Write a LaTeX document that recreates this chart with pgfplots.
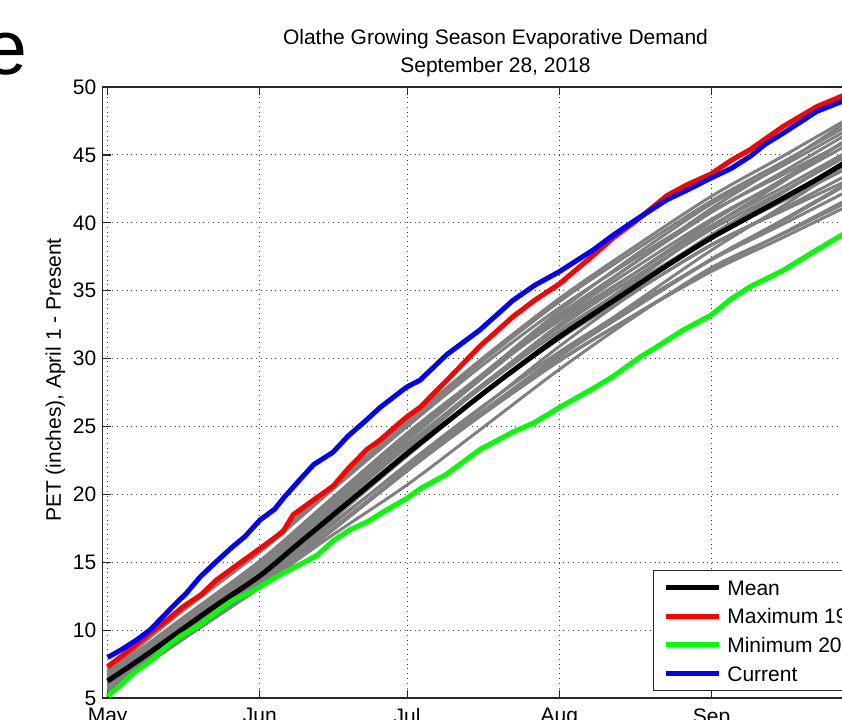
\documentclass[border=0pt]{standalone}
\usepackage{fontspec}
\setmainfont{Liberation Sans}
\usepackage{pgfplots}
\usepackage{pgfplotstable}
\pgfplotsset{compat=1.18}
\definecolor{mgray}{RGB}{128,128,128}
\definecolor{mgreen}{RGB}{0,255,0}
\definecolor{mred}{RGB}{255,0,0}
\definecolor{mblue}{RGB}{0,0,255}

\pgfplotstableread{
doy g1 g2 g3 g4 g5 g6 g7 g8 g9 g10 g11 g12 g13 g14 g15 g16 g17 g18 g19 g20 g21 g22
121 7.15 6.85 6.65 6.95 6.55 6.45 6.75 6.15 6.25 5.95 6.45 5.85 5.65 6.05 5.55 5.95 5.55 6.35 6.75 6.05 6.55 5.75
135 11.30 11.05 10.21 11.10 10.31 10.25 10.06 9.54 9.96 9.73 9.97 9.14 9.17 9.31 9.01 9.22 9.00 9.38 10.55 9.85 9.95 9.15
152 15.95 15.80 14.59 15.75 14.85 14.80 14.13 13.73 14.41 14.25 14.22 13.16 13.40 13.26 13.16 13.21 13.20 13.18 15.10 14.40 13.90 13.50
166 20.40 20.20 18.93 20.10 19.26 19.20 18.23 17.94 18.74 18.60 18.38 17.19 17.54 17.22 17.22 17.23 16.80 17.12 19.50 18.90 17.70 18.00
182 25.37 25.19 23.94 24.99 24.28 24.19 22.96 22.82 23.65 23.49 23.10 21.82 22.23 21.74 21.82 21.84 20.70 21.72 24.50 24.00 22.10 23.20
197 29.92 29.71 28.47 29.41 28.76 28.61 27.25 27.26 28.00 27.80 27.29 25.99 26.39 25.78 25.88 25.99 24.80 25.95 28.70 28.70 26.30 27.90
213 34.42 34.19 33.06 33.74 33.23 32.98 31.59 31.78 32.32 32.03 31.44 30.18 30.49 29.81 29.88 30.16 29.20 30.28 32.80 33.50 30.90 32.50
228 38.16 37.88 36.97 37.29 36.96 36.60 35.28 35.66 35.90 35.49 34.87 33.70 33.87 33.15 33.14 33.66 33.00 34.02 36.20 37.50 34.80 36.20
244 41.96 41.61 41.06 40.85 40.77 40.27 39.13 39.72 39.52 38.97 38.35 37.34 37.28 36.57 36.42 37.28 36.70 37.99 39.80 41.40 38.40 40.10
258 44.80 44.38 44.22 43.45 43.65 43.00 42.10 42.90 42.22 41.50 40.93 40.11 39.80 39.13 38.82 40.03 39.10 41.11 42.50 44.10 40.80 43.10
271 47.50 47.00 47.30 45.90 46.40 45.60 45.00 46.00 44.80 43.90 43.40 42.80 42.20 41.60 41.10 42.70 41.40 44.20 45.10 46.70 43.00 46.00
}\graydata

\begin{document}
\begin{tikzpicture}
\path[use as bounding box, clip] (0pt,0pt) rectangle (421pt,-359.5pt);
\node[anchor=base east, inner sep=0pt, font=\fontsize{38.5}{44}\selectfont] at (14pt,-37.3pt) {e};
\begin{axis}[
  at={(51.35pt,-349pt)}, anchor=south west,
  width=392.8pt, height=305.5pt, scale only axis,
  xmin=120, xmax=280, ymin=5, ymax=50,
  xtick={121,152,182,213,244,274},
  xticklabels={May,Jun,Jul,Aug,Sep,Oct},
  ytick={5,10,...,50},
  tick align=inside,
  major tick length=4pt,
  grid=major,
  grid style={dotted, black!75, line width=0.5pt},
  axis line style={black!85, line width=0.6pt},
  tick style={black!85, line width=0.6pt},
  tick label style={font=\fontsize{10.5}{12}\selectfont},
  /pgf/number format/assume math mode=true,
  xticklabel style={inner sep=0pt, yshift=-5pt},
  yticklabel style={inner sep=0pt, xshift=-3pt},
  title={Olathe Growing Season Evaporative Demand\\September 28, 2018},
  title style={font=\fontsize{10.5}{13.85}\selectfont, align=center, anchor=south, inner sep=0pt, at={(0.5,1)}, yshift=-1pt},
  ylabel={PET (inches), April 1 - Present},
  ylabel style={font=\fontsize{10.5}{12}\selectfont, at={(axis description cs:-0.0601,0.5205)}, anchor=center, inner sep=0pt},
  legend style={at={(1,0)}, anchor=south east, xshift=-3.5pt, yshift=3.5pt,
    font=\fontsize{10.5}{12}\selectfont, draw=black!85, fill=white,
    inner xsep=5pt, inner ysep=4.8pt, row sep=6.7pt, column sep=3pt,
    nodes={inner sep=0pt, text height=7.6pt, text depth=0pt}},
  legend cell align=left,
  legend image code/.code={\draw[#1] (0pt,0pt) -- (26.5pt,0pt);},
]
\pgfplotsinvokeforeach{1,...,22}{
  \addplot[mgray, line width=1.5pt, smooth, tension=0.5, forget plot] table[x=doy, y=g#1] {\graydata};
}
\addplot[black, line width=2.5pt, smooth, tension=0.5] coordinates {
(121,6.25) (128,7.95) (135,9.75) (143,11.8) (152,14.0) (159,16.1) (166,18.2) (174,20.6) (182,23.0) (190,25.3) (197,27.3) (205,29.5) (213,31.6) (220,33.3) (228,35.2) (236,37.1) (244,38.9) (251,40.3) (258,41.7) (265,43.1) (271,44.4)};
\addplot[mred, line width=2.5pt, line join=round] coordinates {
(121,7.31) (125,8.4) (129.6,9.77) (133,10.7) (136.4,11.73) (140,12.6) (143.2,13.7) (147,14.7) (152,16.0) (156.7,17.25) (158.8,18.5) (163,19.6) (166.9,20.6) (170,21.9) (173.8,23.3) (176.5,24.0) (179,24.8) (181.9,25.7) (184.6,26.4) (190.1,28.4) (196.8,30.9) (203.6,33.1) (208,34.3) (213,35.5) (219.9,37.6) (224,38.9) (228.5,40.1) (234.9,42.0) (239,42.8) (243.9,43.6) (248,44.6) (251.9,45.4) (258.6,47.1) (265.4,48.55) (271,49.4)};
\addplot[mgreen, line width=2.5pt, line join=round] coordinates {
(121,5.15) (123.5,5.9) (126.2,6.83) (130,7.8) (133,8.78) (136,9.6) (139.8,10.4) (143,11.3) (146.5,12.2) (149,12.6) (152,13.2) (156.7,14.2) (160,14.8) (163.6,15.5) (167,16.6) (170.4,17.4) (174,18.0) (177.1,18.7) (181.9,19.7) (184.6,20.4) (190.1,21.5) (196.8,23.3) (203.6,24.6) (208,25.3) (213,26.4) (219.9,27.8) (224,28.7) (229.4,30.1) (233,30.9) (238.2,32.1) (243.9,33.2) (248,34.4) (251.9,35.3) (258.6,36.5) (265.4,38.0) (271,39.2)};
\addplot[mblue, line width=2.5pt, line join=round] coordinates {
(121,7.98) (124,8.6) (127,9.3) (129.6,10.0) (132.3,11.0) (135,12.0) (137,12.7) (139.8,13.9) (143,15.0) (146.5,16.15) (149,16.9) (152,18.1) (155,18.9) (157,19.8) (160.2,21.1) (163,22.2) (166.9,23.1) (170,24.3) (173.8,25.5) (176.5,26.4) (181.9,27.9) (184.6,28.4) (190.1,30.3) (196.8,32.1) (203.6,34.3) (208,35.4) (213,36.4) (219.9,38.0) (224,39.1) (228.5,40.2) (234.9,41.7) (239,42.4) (243.9,43.3) (248,44.0) (251.9,44.9) (255,45.8) (258.6,46.6) (265.4,48.2) (271,49.0)};
\legend{Mean, Maximum 1994, Minimum 2009, Current}
\end{axis}
\end{tikzpicture}
\end{document}
